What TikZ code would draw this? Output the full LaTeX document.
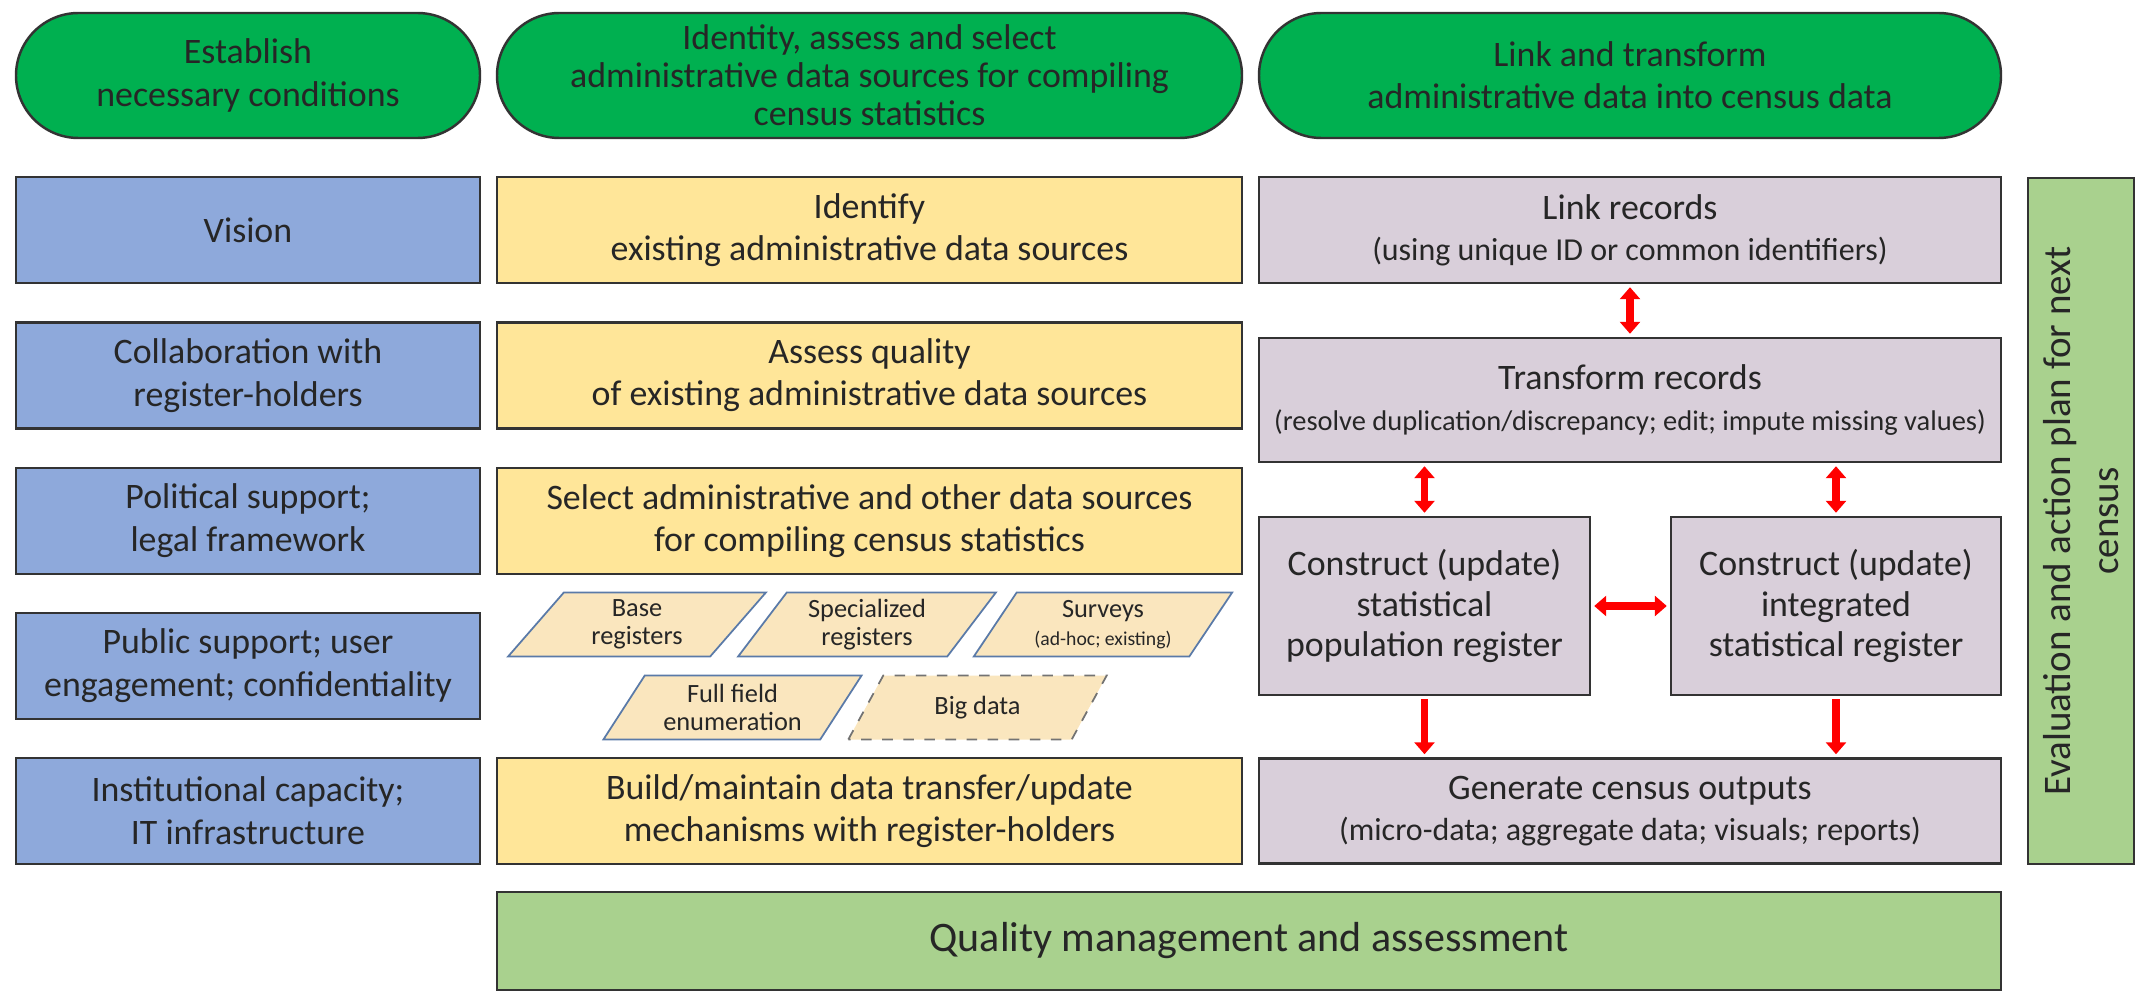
\documentclass[tikz,border=0pt]{standalone}
\usepackage{fontspec}
\setmainfont{Carlito}
\usetikzlibrary{shapes.misc,shapes.geometric,arrows.meta}
\definecolor{ovgreen}{HTML}{00B050}
\definecolor{condblue}{HTML}{8EA9DB}
\definecolor{srcyellow}{HTML}{FFE699}
\definecolor{regyellow}{HTML}{FAE6BE}
\definecolor{edgeblue}{HTML}{5A7AA8}
\definecolor{linkmauve}{HTML}{D9CFDA}
\definecolor{qgreen}{HTML}{A9D18E}
\definecolor{txt}{HTML}{262626}
\tikzstyle{BOX}=[draw=black!80,line width=0.7pt,text=txt,align=center,inner sep=0pt,font=\fontsize{10.2}{12}\selectfont]
\tikzstyle{OV}=[BOX,rounded rectangle,fill=ovgreen,minimum height=1.25cm]
\tikzstyle{C}=[BOX,fill=condblue,minimum width=4.64cm,minimum height=1.06cm,font=\fontsize{10.2}{12.3}\selectfont]
\tikzstyle{S}=[BOX,fill=srcyellow,minimum width=7.45cm,minimum height=1.06cm]
\tikzstyle{P}=[BOX,fill=linkmauve,font=\fontsize{10.2}{11.6}\selectfont]
\tikzstyle{R}=[trapezium,trapezium left angle=55,trapezium right angle=125,trapezium stretches=true,
  draw=edgeblue,line width=0.5pt,fill=regyellow,minimum width=2.59cm,minimum height=0.64cm,
  inner sep=0pt,align=center,text=txt,font=\fontsize{7.5}{8}\selectfont]
\tikzstyle{RA}=[draw=red,line width=0.075cm,>={Triangle[width=0.2cm,length=0.12cm]},shorten <=0.03cm,shorten >=0.03cm]
\newcommand{\subline}[1]{{\fontsize{9.1}{11.6}\selectfont #1}}

\begin{document}
\begin{tikzpicture}[y=-1cm]
        \useasboundingbox (0,0) rectangle (21.38,9.96);

        % stages
        \node[OV,minimum width=4.64cm] (cond) at (2.48,0.755) {Establish\\necessary conditions};
        \node[OV,minimum width=7.45cm,font=\fontsize{10.2}{10.8}\selectfont] (ident) at (8.695,0.755)
            {Identity, assess and select\\administrative data sources for compiling\\census statistics};
        \node[OV,minimum width=7.42cm] (trans) at (16.30,0.755) {Link and transform\\administrative data into census data};

        % necessary conditions
        \node[C] (vision) at (2.48,2.30) {Vision};
        \node[C] (collab) at (2.48,3.755) {Collaboration with\\register-holders};
        \node[C] (polit) at (2.48,5.21) {Political support;\\legal framework};
        \node[C] (public) at (2.48,6.66) {Public support; user\\engagement; confidentiality};
        \node[C] (inst) at (2.48,8.11) {Institutional capacity;\\IT infrastructure};

        % data sources
        \node[S] (identify) at (8.695,2.30) {Identify\\existing administrative data sources};
        \node[S] (assess) at (8.695,3.755) {Assess quality\\of existing administrative data sources};
        \node[S] (select) at (8.695,5.21) {Select administrative and other data sources\\for compiling census statistics};
        \node[R] (base) at (6.37,6.245) {Base\\registers};
        \node[R] (spec) at (8.67,6.245) {Specialized\\registers};
        \node[R] (surv) at (11.03,6.245) {Surveys\\{\fontsize{5.6}{6}\selectfont(ad-hoc; existing)}};
        \node[R] (full) at (7.325,7.075) {Full field\\enumeration};
        \node[R,dashed,draw=black!55] (big) at (9.775,7.075) {Big data};
        \node[S] (build) at (8.695,8.11) {Build/maintain data transfer/update\\mechanisms with register-holders};

        % link and transform
        \node[P,minimum width=7.42cm,minimum height=1.06cm] (link) at (16.30,2.30)
            {Link records\\\subline{(using unique ID or common identifiers)}};
        \node[P,minimum width=7.42cm,minimum height=1.24cm] (transf) at (16.30,4.00)
            {Transform records\\{\fontsize{8.1}{11}\selectfont(resolve duplication/discrepancy; edit; impute missing values)}};
        \node[P,minimum width=3.31cm,minimum height=1.78cm] (spr) at (14.245,6.06)
            {Construct (update)\\statistical\\population register};
        \node[P,minimum width=3.30cm,minimum height=1.78cm] (isr) at (18.36,6.06)
            {Construct (update)\\integrated\\statistical register};
        \node[P,minimum width=7.42cm,minimum height=1.05cm] (outputs) at (16.30,8.11)
            {Generate census outputs\\\subline{(micro-data; aggregate data; visuals; reports)}};

        \node[BOX,fill=qgreen,rotate=90,minimum width=6.86cm,minimum height=1.06cm,font=\fontsize{11.1}{13.7}\selectfont]
            (plan) at (20.81,5.21) {Evaluation and action plan for next\\census};
        \node[BOX,fill=qgreen,minimum width=15.04cm,minimum height=0.98cm,font=\fontsize{11.95}{14}\selectfont]
            (quality) at (12.49,9.41) {Quality management and assessment};

        % arrows
        \draw[RA,<->] (link) -- (transf);
        \draw[RA,<->] (transf.south -| spr) -- (spr);
        \draw[RA,<->] (transf.south -| isr) -- (isr);
        \draw[RA,<->] (spr) -- (isr);
        \draw[RA,->] (spr) -- (spr |- outputs.north);
        \draw[RA,->] (isr) -- (isr |- outputs.north);

    \end{tikzpicture}
\end{document}
